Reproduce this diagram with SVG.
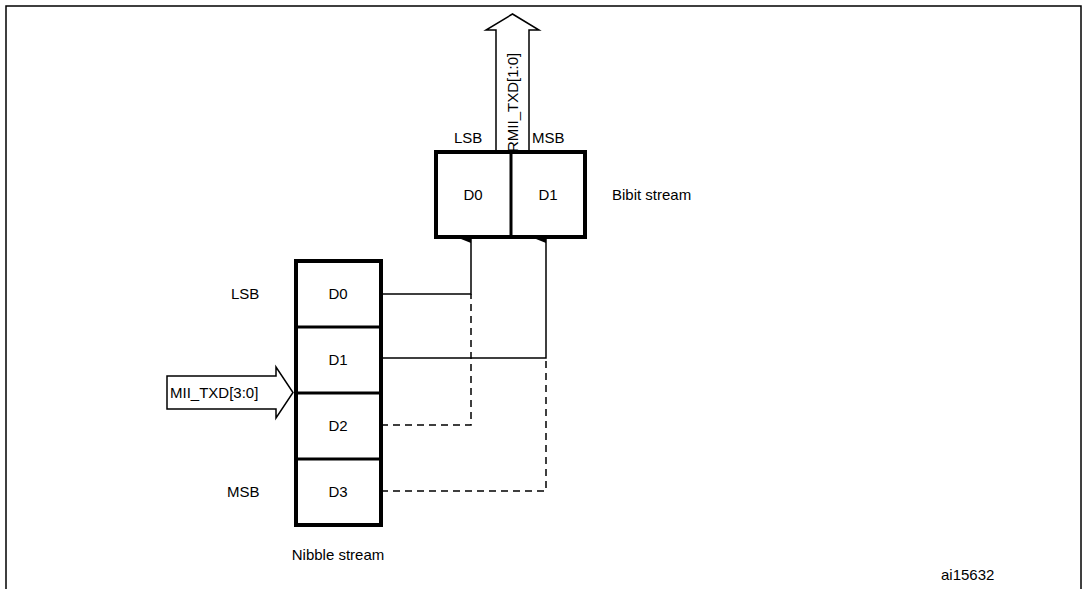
<svg xmlns="http://www.w3.org/2000/svg" width="1087" height="589" viewBox="0 0 1087 589">
<style>
text{font-family:"Liberation Sans",Arial,sans-serif;font-size:15px;fill:#000}
.box{fill:#fff;stroke:#000;stroke-width:4}
.ln{fill:none;stroke:#000;stroke-width:1.5}
.dash{fill:none;stroke:#000;stroke-width:1.5;stroke-dasharray:7,5}
.big{fill:#fff;stroke:#000;stroke-width:1.5}
</style>
<defs><marker id="ah" markerWidth="8" markerHeight="10" refX="4" refY="10" orient="auto" markerUnits="userSpaceOnUse" viewBox="0 0 8 10"><path d="M0,10 L4,0 L8,10 Z" fill="#000"/></marker></defs>
<rect x="6" y="6" width="1075" height="590" fill="none" stroke="#000" stroke-width="1.5"/>
<g id="connectors">
<path class="dash" d="M381,425 H471 V294"/>
<path class="dash" d="M381,491 H546 V358"/>
<path class="ln" d="M381,294 H471 V239" marker-end="url(#ah)"/>
<path class="ln" d="M381,358 H546 V239" marker-end="url(#ah)"/>
</g>
<g id="rmii">
<path class="big" d="M496,152 V30 H486 L512.5,14 L539,30 H529 V152"/>
<text transform="translate(518,152) rotate(-90)">RMII_TXD[1:0]</text>
<text x="454" y="143">LSB</text>
<text x="532" y="143">MSB</text>
</g>
<g id="bibit">
<rect class="box" x="436" y="152" width="149" height="85"/>
<line x1="511" y1="152" x2="511" y2="237" stroke="#000" stroke-width="3"/>
<text x="473" y="200" text-anchor="middle">D0</text>
<text x="548" y="200" text-anchor="middle">D1</text>
<text x="612" y="200">Bibit stream</text>
</g>
<g id="nibble">
<rect class="box" x="296" y="261" width="85" height="264"/>
<line x1="296" y1="327" x2="381" y2="327" stroke="#000" stroke-width="3"/>
<line x1="296" y1="393" x2="381" y2="393" stroke="#000" stroke-width="3"/>
<line x1="296" y1="459" x2="381" y2="459" stroke="#000" stroke-width="3"/>
<text x="338" y="299" text-anchor="middle">D0</text>
<text x="338" y="365" text-anchor="middle">D1</text>
<text x="338" y="431" text-anchor="middle">D2</text>
<text x="338" y="497" text-anchor="middle">D3</text>
<text x="231" y="299">LSB</text>
<text x="227" y="497">MSB</text>
<text x="338" y="560" text-anchor="middle">Nibble stream</text>
</g>
<g id="mii">
<path class="big" d="M167,376 H276 V367 L293,392.5 L276,418 V409 H167 Z"/>
<text x="170" y="398">MII_TXD[3:0]</text>
</g>
<text x="941" y="580">ai15632</text>
</svg>
